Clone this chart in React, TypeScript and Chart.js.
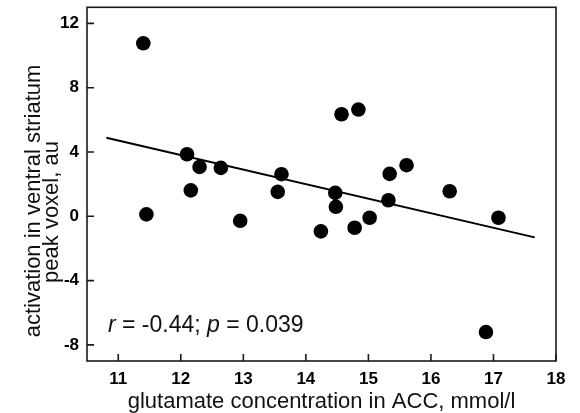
import React, { useEffect, useRef } from "react";
import { Chart, registerables } from "chart.js";

Chart.register(...registerables);

// Scatter data (glutamate concentration in ACC, activation in ventral striatum)
const glutamate = [11.40, 11.45, 12.10, 12.16, 12.30, 12.64, 12.95, 13.55, 13.61, 14.24, 14.47, 14.48, 14.57, 14.84, 14.78, 15.02, 15.32, 15.34, 15.61, 16.30, 16.88, 17.08];
const activation = [10.76, 0.12, 3.86, 1.61, 3.07, 3.01, -0.28, 1.52, 2.62, -0.94, 1.46, 0.59, 6.35, 6.64, -0.71, -0.09, 1.00, 2.64, 3.18, 1.56, -7.20, -0.09];

// Regression line end points
const fitX = [10.81, 17.66];
const fitY = [4.88, -1.31];

// Tick values
const xTicks = [11, 12, 13, 14, 15, 16, 17, 18];
const yTicks = [-8, -4, 0, 4, 8, 12];

const xTitle = "glutamate concentration in ACC, mmol/l";
const yTitle = ["activation in ventral striatum", "peak voxel, au"];
const statR = "-0.44";
const statP = "0.039";

const FONT = '"Liberation Sans", Arial, Helvetica, sans-serif';

const framePlugin = {
  id: "frame",
  afterDraw(chart: any) {
    const { ctx, chartArea } = chart;
    const xs = chart.scales.x;
    const ys = chart.scales.y;
    const { left, right, top, bottom } = chartArea;
    ctx.save();
    ctx.strokeStyle = "#1a1a1a";
    ctx.lineWidth = 1.6;
    ctx.strokeRect(left, top, right - left, bottom - top);
    // inward tick marks
    ctx.beginPath();
    xs.ticks.forEach((t: any) => {
      const px = xs.getPixelForValue(t.value);
      ctx.moveTo(px, bottom);
      ctx.lineTo(px, bottom - 7);
    });
    ys.ticks.forEach((t: any) => {
      const py = ys.getPixelForValue(t.value);
      ctx.moveTo(left, py);
      ctx.lineTo(left + 7, py);
    });
    ctx.stroke();

    // axis titles
    ctx.fillStyle = "#111";
    ctx.font = `22px ${FONT}`;
    ctx.textAlign = "center";
    ctx.textBaseline = "alphabetic";
    ctx.fillText(xTitle, (left + right) / 2, 408);

    ctx.save();
    ctx.translate(39.5, 201);
    ctx.rotate(-Math.PI / 2);
    ctx.fillText(yTitle[0], 0, 0);
    ctx.restore();
    ctx.save();
    ctx.translate(58, 212);
    ctx.rotate(-Math.PI / 2);
    ctx.fillText(yTitle[1], 0, 0);
    ctx.restore();

    // statistics annotation
    const parts: [string, boolean][] = [
      ["r", true],
      [` = ${statR}; `, false],
      ["p", true],
      [` = ${statP}`, false],
    ];
    ctx.textAlign = "left";
    let x = 108;
    const base = 332;
    parts.forEach(([s, it]) => {
      ctx.font = `${it ? "italic " : ""}23px ${FONT}`;
      ctx.fillText(s, x, base);
      x += ctx.measureText(s).width;
    });
    ctx.restore();
  },
};

export default function App() {
  const ref = useRef<HTMLCanvasElement | null>(null);
  useEffect(() => {
    if (!ref.current) return;
    const chart = new Chart(ref.current, {
      type: "scatter",
      data: {
        datasets: [
          {
            type: "line",
            data: fitX.map((x, i) => ({ x, y: fitY[i] })),
            borderColor: "#000",
            borderWidth: 2,
            pointRadius: 0,
            fill: false,
            order: 2,
          } as any,
          {
            data: glutamate.map((x, i) => ({ x, y: activation[i] })),
            backgroundColor: "#000",
            borderColor: "#000",
            pointRadius: 7.3,
            pointBorderWidth: 0,
            order: 1,
          },
        ],
      },
      plugins: [framePlugin],
      options: {
        responsive: false,
        animation: false,
        events: [],
        layout: { padding: { top: 7, right: 24, left: 0, bottom: 0 } },
        plugins: { legend: { display: false }, tooltip: { enabled: false } },
        scales: {
          x: {
            type: "linear",
            min: 10.5,
            max: 18,
            grid: { display: false, drawTicks: false },
            border: { display: false },
            afterBuildTicks: (s: any) => {
              s.ticks = xTicks.map((v) => ({ value: v }));
            },
            afterFit: (s: any) => {
              s.height = 52;
              s.paddingLeft = 0;
              s.paddingRight = 0;
            },
            ticks: {
              color: "#000",
              padding: 8,
              font: { family: FONT, size: 17, weight: "bold" },
              callback: (v: any) => String(v),
            },
          },
          y: {
            type: "linear",
            min: -9,
            max: 13,
            grid: { display: false, drawTicks: false },
            border: { display: false },
            afterBuildTicks: (s: any) => {
              s.ticks = yTicks.map((v) => ({ value: v }));
            },
            afterFit: (s: any) => {
              s.width = 87;
              s.paddingTop = 0;
              s.paddingBottom = 0;
            },
            ticks: {
              color: "#000",
              padding: 8,
              font: { family: FONT, size: 17, weight: "bold" },
              callback: (v: any) => String(v),
            },
          },
        },
      },
    });
    return () => chart.destroy();
  }, []);
  return (
    <div style={{ position: "fixed", left: 0, top: 0, width: 580, height: 413, background: "#fff" }}>
      <canvas ref={ref} width={580} height={413} />
    </div>
  );
}
